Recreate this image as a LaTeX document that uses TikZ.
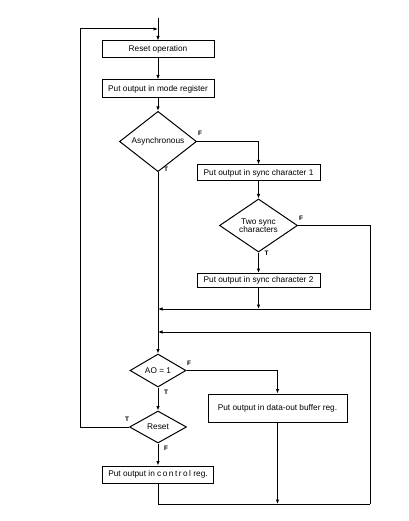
\documentclass[tikz,border=0pt]{standalone}
\usepackage{fontspec}
\setmainfont{Liberation Sans}
\usetikzlibrary{shapes.geometric,arrows.meta}
\begin{document}
\begin{tikzpicture}[x=1pt,y=-1pt,
  line width=1pt,
  box/.style={draw,rectangle,inner sep=0pt,font=\fontsize{8.3}{9}\selectfont},
  dia/.style={draw,diamond,inner sep=0pt,font=\fontsize{8.3}{8.5}\selectfont,align=center},
  lab/.style={font=\fontsize{6.5}{6.5}\selectfont\bfseries,inner sep=0pt},
  arr/.style={-{Latex[length=4.5pt,width=3.5pt]}}]
\useasboundingbox (0,0) rectangle (408,521);
% nodes
\coordinate (top) at (158,18);
\coordinate (join) at (158,29);
\node[box,minimum width=112pt,minimum height=17pt] (reset) at (158,49.5) {Reset operation};
\node[box,minimum width=112pt,minimum height=18pt] (mode) at (158,89) {Put output in mode register};
\node[dia,minimum width=77pt,minimum height=45pt] (async) at (158,141.5) {Asynchronous};
\node[box,minimum width=123pt,minimum height=16pt] (sync1) at (258.5,173) {Put output in sync character 1};
\node[dia,minimum width=78pt,minimum height=45pt] (two) at (258.5,225.5) {Two sync\\characters};
\node[box,minimum width=123pt,minimum height=14pt] (sync2) at (258.5,280.5) {Put output in sync character 2};
\node[dia,minimum width=56pt,minimum height=33pt] (ao) at (158,370.5) {AO = 1};
\node[box,minimum width=139pt,minimum height=28pt] (dout) at (277.5,408) {Put output in data-out buffer reg.};
\node[dia,minimum width=57pt,minimum height=32pt] (rdia) at (158,427) {Reset};
\node[box,minimum width=111pt,minimum height=17pt] (ctrl) at (158,474.5) {Put output in {\addfontfeature{LetterSpace=18}control} reg.};
\coordinate (m1) at (158,309);
\coordinate (m2) at (158,332);
\coordinate (r1) at (370,225.5);
\coordinate (r1b) at (370,309);
\coordinate (s2b) at (258.5,309);
\coordinate (bl) at (158,504);
\coordinate (br) at (370,504);
\coordinate (r2t) at (370,332);
\coordinate (db) at (277.5,504);
\coordinate (ll) at (80,427);
\coordinate (lt) at (80,29);
% connectors
\draw[arr] (top) -- (reset.north);
\draw[arr] (reset.south) -- (mode.north);
\draw[arr] (mode.south) -- (async.north);
\draw[arr] (async.east) -| (sync1.north);
\draw[arr] (sync1.south) -- (two.north);
\draw[arr] (two.south) -- (sync2.north);
\draw[arr] (two.east) -- (r1) -- (r1b) -- (m1);
\draw[arr] (sync2.south) -- (s2b);
\draw[arr] (async.south) -- (ao.north);
\draw[arr] (ao.east) -| (dout.north);
\draw[arr] (ao.south) -- (rdia.north);
\draw[arr] (rdia.south) -- (ctrl.north);
\draw[arr] (rdia.west) -- (ll) -- (lt) -- (join);
\draw (ctrl.south) -- (bl) -- (br);
\draw[arr] (br) -- (r2t) -- (m2);
\draw[arr] (dout.south) -- (db);
% labels
\node[lab] at (200,133) {F};
\node[lab] at (166,169) {T};
\node[lab] at (301,218) {F};
\node[lab] at (266.5,253) {T};
\node[lab] at (189,363) {F};
\node[lab] at (166,392) {T};
\node[lab] at (127,419) {T};
\node[lab] at (166,448) {F};
\end{tikzpicture}
\end{document}
